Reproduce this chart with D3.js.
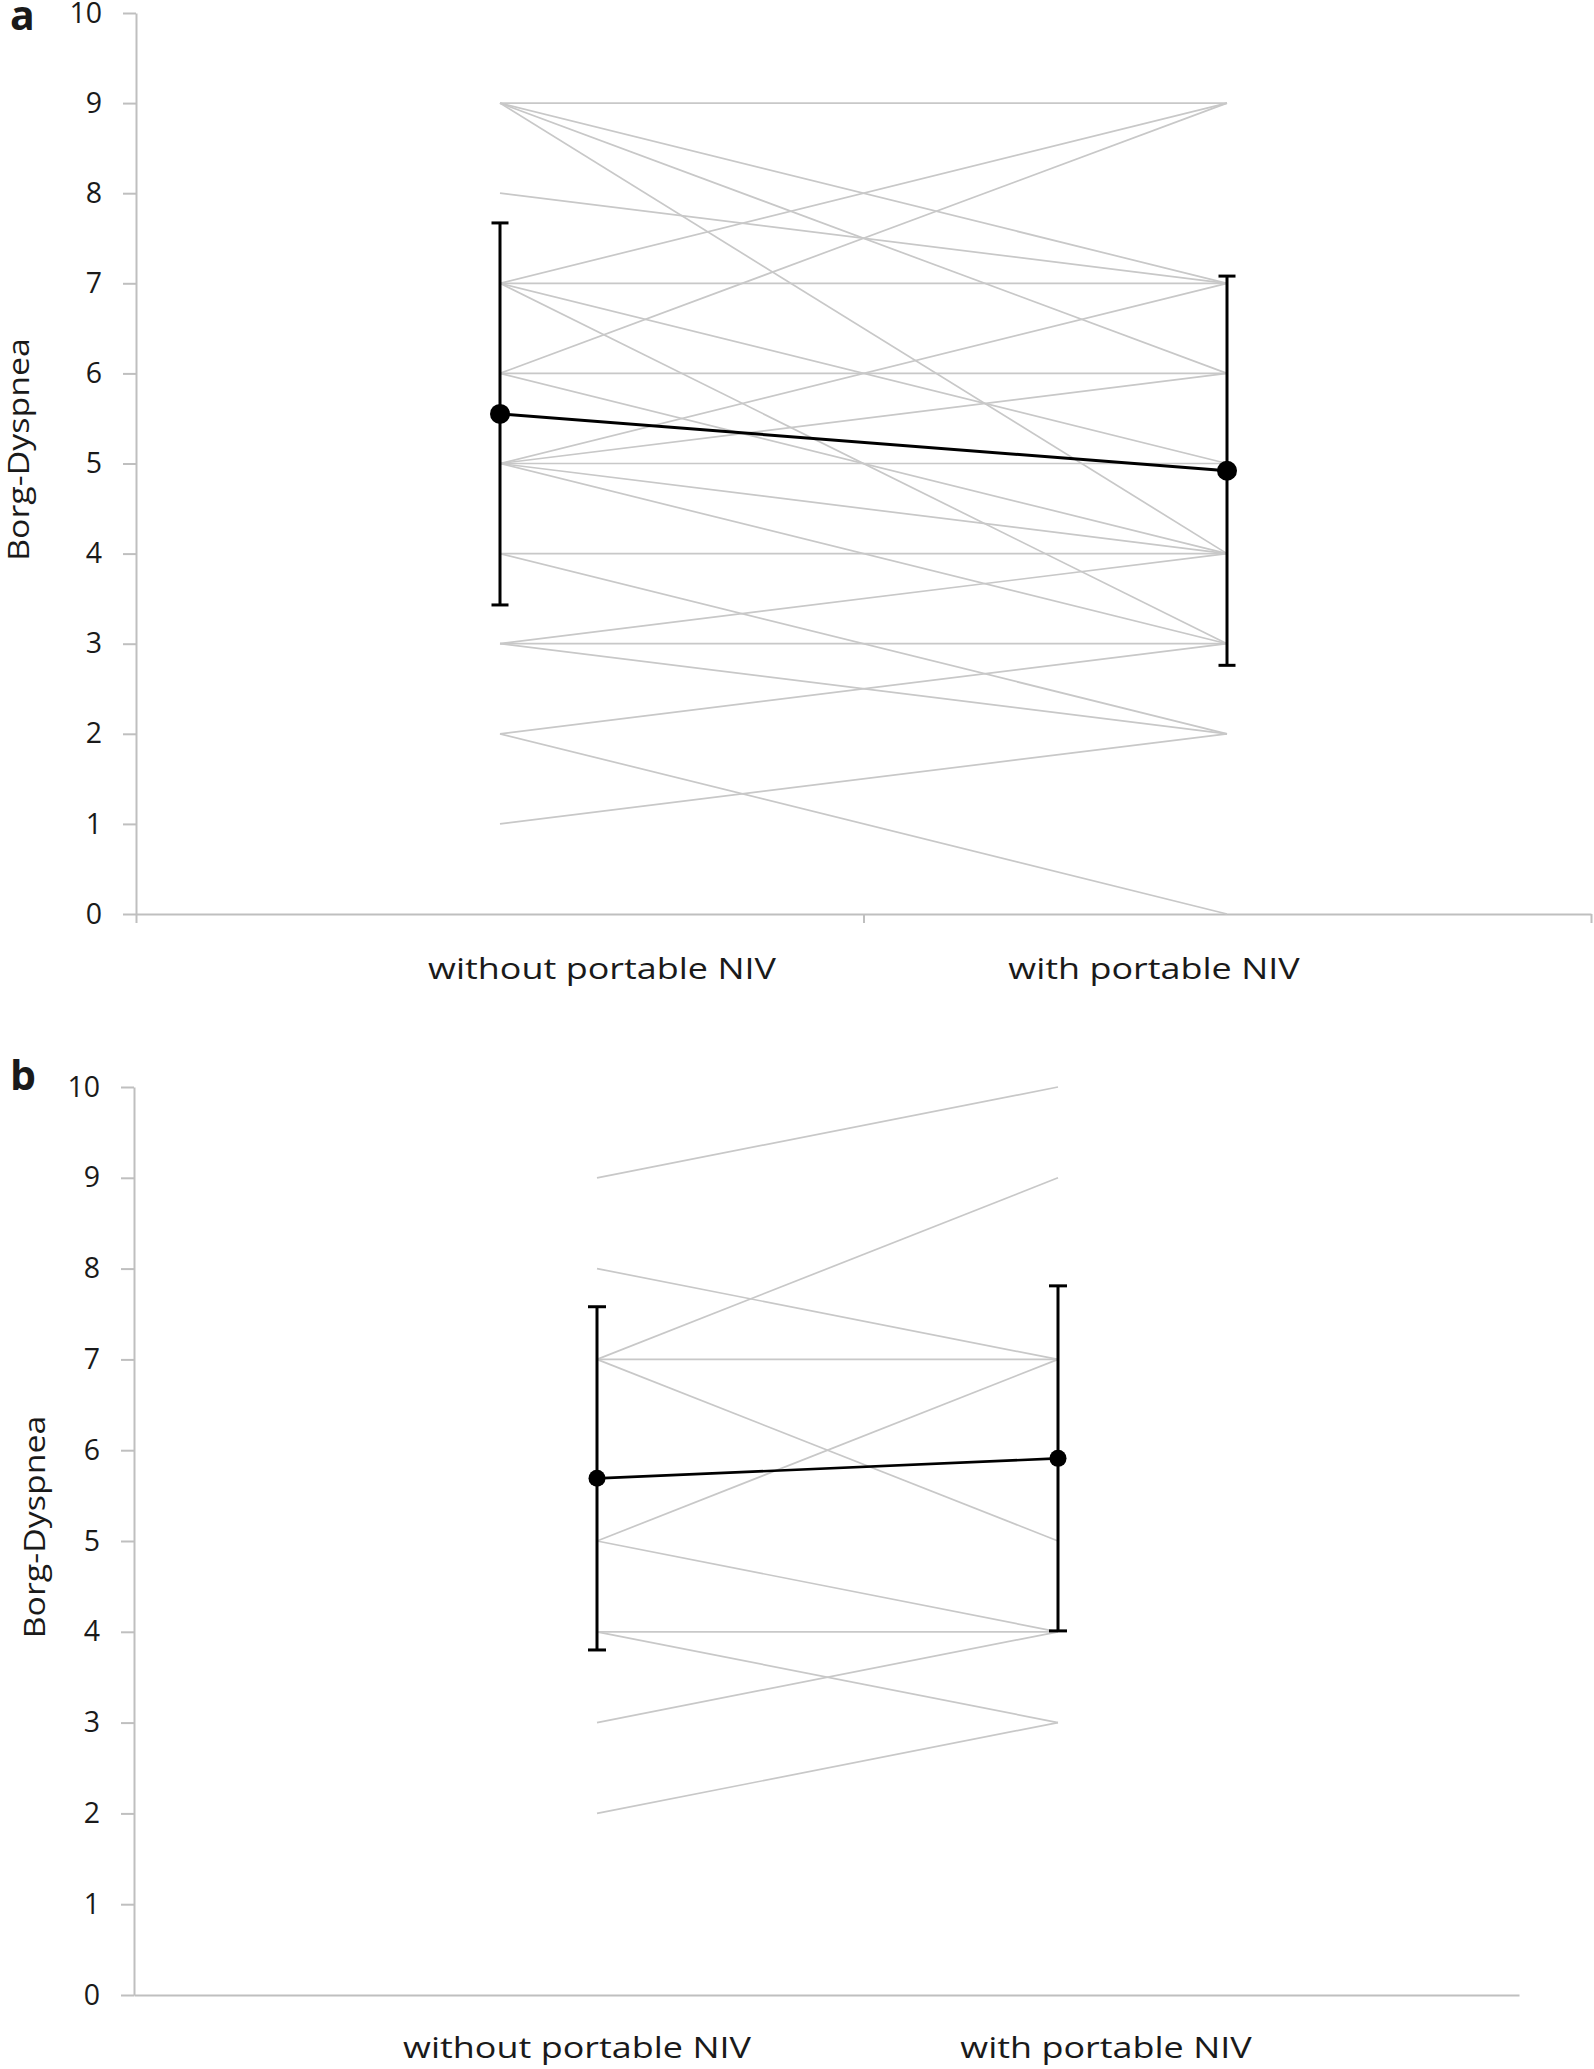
<!DOCTYPE html>
<html>
<head>
<meta charset="utf-8">
<script src="https://cdn.jsdelivr.net/npm/d3@7"></script>
<style>
  html, body { margin: 0; padding: 0; background: #ffffff; }
  svg { display: block; }
  text { font-family: "Open Sans", "Noto Sans", sans-serif; fill: #1a1a1a; }
</style>
</head>
<body>
<svg id="chart" width="1594" height="2069"></svg>
<script>
// ---------------- data ----------------
const categories = ["without portable NIV", "with portable NIV"];
const yTicks = [0, 1, 2, 3, 4, 5, 6, 7, 8, 9, 10];
const yTitle = "Borg-Dyspnea";
const panelLetters = ["a", "b"];

// panel a: individual patients (without -> with)
const aWithout = [9, 9, 9, 9, 8, 7, 7, 7, 7, 6, 6, 6, 5, 5, 5, 5, 5, 4, 4, 3, 3, 3, 2, 2, 1];
const aWith    = [9, 7, 6, 4, 7, 9, 7, 5, 3, 9, 6, 4, 7, 6, 5, 4, 3, 4, 2, 4, 3, 2, 3, 0, 2];
const aMean = [5.55, 4.92];
const aSD   = [2.12, 2.16];

// panel b: individual patients (without -> with)
const bWithout = [9, 8, 7, 7, 7, 5, 5, 4, 4, 3, 2];
const bWith    = [10, 7, 9, 7, 5, 7, 4, 4, 3, 4, 3];
const bMean = [5.69, 5.91];
const bSD   = [1.89, 1.90];

// ---------------- layout ----------------
const panels = [
  {
    letter: panelLetters[0], before: aWithout, after: aWith, mean: aMean, sd: aSD,
    yRange: [914, 13], axisX: 136, axisRight: 1591, pointRange: [500, 1227],
    labelRange: [602, 1154], labelY: 979, xTicks: [0, 1, 2],
    titleX: 18, letterPos: [10, 30], r: 10, cap: 8.5, meanW: 3, barW: 3
  },
  {
    letter: panelLetters[1], before: bWithout, after: bWith, mean: bMean, sd: bSD,
    yRange: [1995, 1087], axisX: 134, axisRight: 1519, pointRange: [597, 1058],
    labelRange: [577, 1106], labelY: 2058, xTicks: [],
    titleX: 34, letterPos: [10, 1090], r: 8.5, cap: 9, meanW: 2.6, barW: 3
  }
];

const svg = d3.select("#chart");
const axisColor = "#bfbfbf";
const lineColor = "#c8c8c8";

panels.forEach(p => {
  const g = svg.append("g");
  const y = d3.scaleLinear().domain([0, 10]).range(p.yRange);
  const x = d3.scalePoint().domain(categories).range(p.pointRange);
  const xl = d3.scalePoint().domain(categories).range(p.labelRange);
  const xb = d3.scaleLinear().domain([0, 2]).range([p.axisX, p.axisRight]);

  // y axis
  const ya = g.append("g")
    .attr("transform", `translate(${p.axisX},0)`)
    .call(d3.axisLeft(y).tickValues(yTicks).tickSize(13).tickSizeOuter(0).tickPadding(21).tickFormat(d3.format("d")));
  ya.select(".domain").attr("stroke", axisColor).attr("stroke-width", 2);
  ya.selectAll(".tick line").attr("stroke", axisColor).attr("stroke-width", 2);
  ya.selectAll(".tick text")
    .attr("font-family", '"Open Sans", sans-serif')
    .attr("font-size", 28.5)
    .attr("fill", "#1a1a1a");

  // bottom axis
  const xa = g.append("g")
    .attr("transform", `translate(0,${y(0)})`)
    .call(d3.axisBottom(xb).tickValues(p.xTicks).tickSize(9).tickSizeOuter(0).tickFormat(""));
  xa.select(".domain").attr("stroke", axisColor).attr("stroke-width", 2);
  xa.selectAll(".tick line").attr("stroke", axisColor).attr("stroke-width", 2);

  // individual patient lines
  const pairs = p.before.map((v, i) => [v, p.after[i]]);
  g.append("g").selectAll("line.indiv")
    .data(pairs).join("line")
    .attr("class", "indiv")
    .attr("x1", x(categories[0])).attr("y1", d => y(d[0]))
    .attr("x2", x(categories[1])).attr("y2", d => y(d[1]))
    .attr("stroke", lineColor).attr("stroke-width", 1.7);

  // error bars
  const eb = g.append("g");
  categories.forEach((c, i) => {
    const lo = p.mean[i] - p.sd[i], hi = p.mean[i] + p.sd[i];
    eb.append("line").attr("x1", x(c)).attr("x2", x(c)).attr("y1", y(lo)).attr("y2", y(hi))
      .attr("stroke", "#000").attr("stroke-width", p.barW);
    [lo, hi].forEach(v => {
      eb.append("line").attr("x1", x(c) - p.cap).attr("x2", x(c) + p.cap)
        .attr("y1", y(v)).attr("y2", y(v)).attr("stroke", "#000").attr("stroke-width", p.barW);
    });
  });

  // mean line and points
  const meanLine = d3.line().x(d => x(d.c)).y(d => y(d.v));
  const meanData = categories.map((c, i) => ({ c, v: p.mean[i] }));
  g.append("path").datum(meanData).attr("d", meanLine)
    .attr("fill", "none").attr("stroke", "#000").attr("stroke-width", p.meanW);
  g.selectAll("circle.mean").data(meanData).join("circle")
    .attr("class", "mean")
    .attr("cx", d => x(d.c)).attr("cy", d => y(d.v)).attr("r", p.r).attr("fill", "#000");

  // category labels
  g.selectAll("text.cat").data(categories).join("text")
    .attr("class", "cat")
    .attr("transform", d => `translate(${xl(d)},${p.labelY}) scale(1.24,1)`)
    .attr("text-anchor", "middle")
    .attr("font-size", 29)
    .text(d => d);

  // y title
  const yMid = (p.yRange[0] + p.yRange[1]) / 2 - 14;
  g.append("text")
    .attr("transform", `translate(${p.titleX},${yMid}) rotate(-90) scale(1.17,1)`)
    .attr("text-anchor", "middle")
    .attr("dominant-baseline", "central")
    .attr("font-size", 29)
    .text(yTitle);

  // panel letter
  g.append("text")
    .attr("x", p.letterPos[0]).attr("y", p.letterPos[1])
    .attr("font-family", '"Liberation Sans", Arial, sans-serif')
    .attr("font-weight", "bold")
    .attr("font-size", 41)
    .attr("fill", "#000")
    .text(p.letter);
});
</script>
</body>
</html>
